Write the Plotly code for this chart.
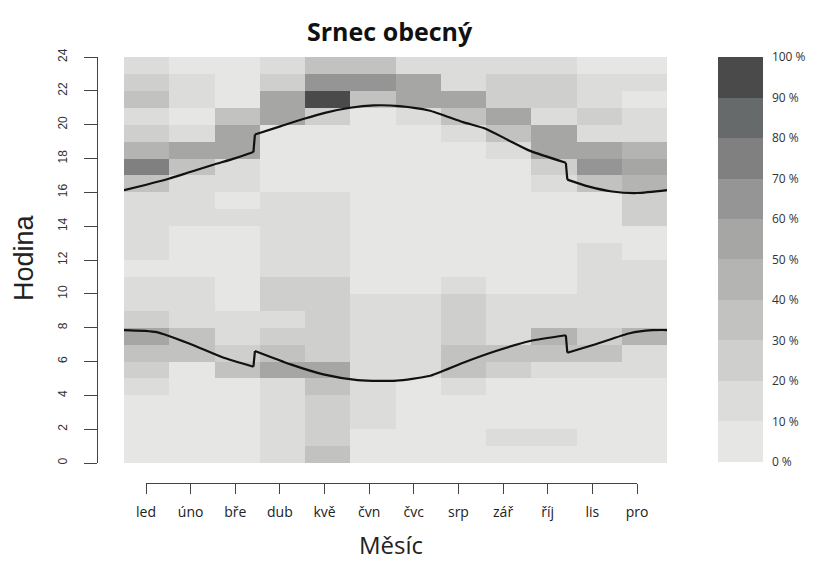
import plotly.graph_objects as go

W, H = 817, 562

months = ["led", "úno", "bře", "dub", "kvě", "čvn", "čvc", "srp", "zář", "říj", "lis", "pro"]
hours = list(range(24))

# activity share (%) per hour 0..23 for each month
act_led = [8, 8, 8, 8, 12, 25, 32, 50, 28, 18, 10, 8, 10, 10, 10, 15, 30, 72, 48, 28, 10, 32, 25, 15]
act_uno = [5, 5, 5, 5, 5, 5, 32, 38, 18, 10, 10, 8, 8, 8, 10, 10, 15, 35, 52, 18, 8, 18, 15, 8]
act_bre = [5, 5, 5, 5, 8, 38, 28, 18, 10, 8, 8, 8, 5, 5, 10, 5, 10, 18, 50, 50, 32, 5, 8, 8]
act_dub = [15, 18, 18, 15, 18, 50, 35, 20, 18, 22, 20, 15, 10, 10, 10, 15, 8, 8, 8, 5, 58, 58, 25, 15]
act_kve = [30, 22, 25, 25, 32, 55, 25, 22, 25, 28, 25, 15, 10, 10, 10, 10, 5, 5, 5, 5, 28, 95, 68, 35]
act_cvn = [8, 8, 10, 10, 18, 10, 15, 10, 18, 10, 5, 5, 5, 5, 5, 5, 5, 5, 5, 5, 5, 35, 60, 32]
act_cvc = [5, 5, 8, 5, 8, 10, 10, 10, 10, 10, 5, 5, 5, 5, 5, 5, 5, 5, 5, 5, 15, 52, 58, 18]
act_srp = [5, 5, 5, 5, 10, 35, 35, 22, 22, 22, 10, 5, 5, 5, 5, 5, 5, 5, 5, 10, 32, 52, 18, 15]
act_zar = [5, 10, 5, 5, 5, 20, 35, 18, 15, 10, 8, 5, 5, 5, 5, 5, 5, 8, 18, 32, 52, 22, 22, 10]
act_rij = [5, 12, 5, 5, 5, 18, 35, 42, 18, 10, 8, 8, 8, 8, 8, 8, 10, 25, 50, 58, 18, 22, 22, 10]
act_lis = [5, 5, 5, 5, 5, 18, 35, 25, 15, 10, 10, 10, 10, 5, 8, 8, 30, 68, 55, 18, 22, 18, 15, 8]
act_pro = [5, 5, 5, 5, 5, 10, 12, 40, 18, 15, 10, 10, 5, 5, 22, 22, 45, 58, 45, 15, 18, 5, 10, 5]

# sunrise / sunset (hour of day) against day of year
sunset_day = [0, 15, 30, 45, 60, 75, 87, 88, 105, 121, 135, 152, 168, 185, 205, 228, 243, 258, 273,
              297, 298, 312, 328, 345, 365]
sunset_hour = [16.13, 16.45, 16.8, 17.22, 17.63, 18.02, 18.38, 19.42, 19.9, 20.35, 20.7, 21.0, 21.14,
               21.1, 20.84, 20.15, 19.76, 19.1, 18.45, 17.75, 16.75, 16.35, 16.05, 15.96, 16.13]
sunrise_day = [0, 22, 45, 67, 87, 88, 112, 134, 157, 172, 183, 205, 228, 250, 273, 297, 298, 317,
               340, 355, 365]
sunrise_hour = [7.86, 7.74, 7.02, 6.22, 5.69, 6.62, 5.83, 5.24, 4.9, 4.85, 4.87, 5.14, 5.93, 6.62,
                7.21, 7.55, 6.52, 7.02, 7.67, 7.85, 7.86]

level_ticks = [0, 10, 20, 30, 40, 50, 60, 70, 80, 90, 100]
level_text = ["0 %", "10 %", "20 %", "30 %", "40 %", "50 %", "60 %", "70 %", "80 %", "90 %", "100 %"]
band_colors = ["#e6e6e5", "#dcdcdb", "#cfcfce", "#c2c2c1", "#b4b4b3", "#a6a6a5",
               "#959595", "#808080", "#666a6a", "#4a4a4a"]

columns = [act_led, act_uno, act_bre, act_dub, act_kve, act_cvn,
           act_cvc, act_srp, act_zar, act_rij, act_lis, act_pro]
z = [[columns[m][h] for m in range(12)] for h in hours]

# stepped grayscale
cscale = []
n = len(band_colors)
for i, c in enumerate(band_colors):
    cscale.append([i / n, c])
    cscale.append([(i + 1) / n, c])


def px_x(p):
    return p / W


def px_y(p):
    return (H - p) / H


def day_to_x(d):
    return 0.5 + d * 12 / 365


def segments(days, hrs):
    # split the curve at the clock-change jumps so each piece is smoothed alone
    xs, ys = [], []
    for i, (d, h) in enumerate(zip(days, hrs)):
        if i > 0 and d - days[i - 1] <= 1:
            xs.append(None)
            ys.append(None)
        xs.append(day_to_x(d))
        ys.append(h)
    return xs, ys


fig = go.Figure()

fig.add_trace(go.Heatmap(
    z=z,
    x=list(range(1, 13)),
    y=[h + 0.5 for h in hours],
    zmin=0, zmax=100,
    colorscale=cscale,
    hoverinfo="skip",
    colorbar=dict(
        thickness=45, thicknessmode="pixels",
        len=405, lenmode="pixels",
        x=px_x(718), xanchor="left", xpad=0,
        y=px_y(259.5), yanchor="middle", ypad=0,
        outlinewidth=0,
        tickmode="array", tickvals=level_ticks, ticktext=level_text,
        ticks="outside", ticklen=7, tickcolor="rgba(0,0,0,0)",
        tickfont=dict(family="Open Sans", size=12, color="#333"),
    ),
))

for days, hrs in ((sunset_day, sunset_hour), (sunrise_day, sunrise_hour)):
    # smoothed pieces
    xs, ys = segments(days, hrs)
    fig.add_trace(go.Scatter(
        x=xs, y=ys, connectgaps=False,
        mode="lines", line=dict(color="#111", width=2.2, shape="spline", smoothing=0.6),
        hoverinfo="skip", showlegend=False,
    ))
    # the clock-change steps
    for i in range(1, len(days)):
        if days[i] - days[i - 1] <= 1:
            fig.add_trace(go.Scatter(
                x=[day_to_x(days[i - 1]), day_to_x(days[i])], y=[hrs[i - 1], hrs[i]],
                mode="lines", line=dict(color="#111", width=2.2),
                hoverinfo="skip", showlegend=False,
            ))

# separate axes carrying ticks and labels
fig.add_trace(go.Scatter(x=[], y=[], xaxis="x2", yaxis="y2", showlegend=False))

fig.update_layout(
    width=W, height=H,
    margin=dict(l=0, r=0, t=0, b=0, autoexpand=False),
    paper_bgcolor="white", plot_bgcolor="rgba(0,0,0,0)",
    showlegend=False,
    xaxis=dict(domain=[px_x(124), px_x(667)], range=[0.5, 12.5], visible=False, fixedrange=True),
    yaxis=dict(domain=[px_y(463), px_y(57)], range=[0, 24], visible=False, fixedrange=True),
    xaxis2=dict(
        domain=[px_x(146), px_x(637)], range=[1, 12], anchor="free", position=px_y(483),
        showline=True, linecolor="#444", linewidth=1.2, showgrid=False, zeroline=False,
        tickmode="array", tickvals=list(range(1, 13)), ticktext=months,
        ticks="outside", ticklen=10, tickwidth=1.2, tickcolor="#444",
        ticklabelstandoff=6, automargin=False,
        tickfont=dict(family="Open Sans", size=14, color="#222"),
    ),
    yaxis2=dict(
        domain=[px_y(463), px_y(57)], range=[0, 24], anchor="free", position=px_x(97),
        side="left", automargin=False,
        showline=True, linecolor="#444", linewidth=1.2, showgrid=False, zeroline=False,
        tickmode="array", tickvals=list(range(0, 25, 2)),
        ticks="outside", ticklen=13, tickwidth=1.2, tickcolor="#444",
        tickangle=-90, ticklabelstandoff=12,
        tickfont=dict(family="Liberation Sans", size=12, color="#333"),
    ),
    annotations=[
        dict(text="<b>Srnec obecný</b>", x=px_x(390), y=px_y(31), xref="paper", yref="paper",
             showarrow=False, xanchor="center", yanchor="middle",
             font=dict(family="Open Sans", size=25, color="#111")),
        dict(text="Hodina", x=px_x(24), y=px_y(258), xref="paper", yref="paper",
             showarrow=False, textangle=-90, xanchor="center", yanchor="middle",
             font=dict(family="Liberation Sans", size=27, color="#222")),
        dict(text="Měsíc", x=px_x(391), y=px_y(544), xref="paper", yref="paper",
             showarrow=False, xanchor="center", yanchor="middle",
             font=dict(family="Open Sans", size=24, color="#222")),
    ],
)

fig.write_html("out.html")
